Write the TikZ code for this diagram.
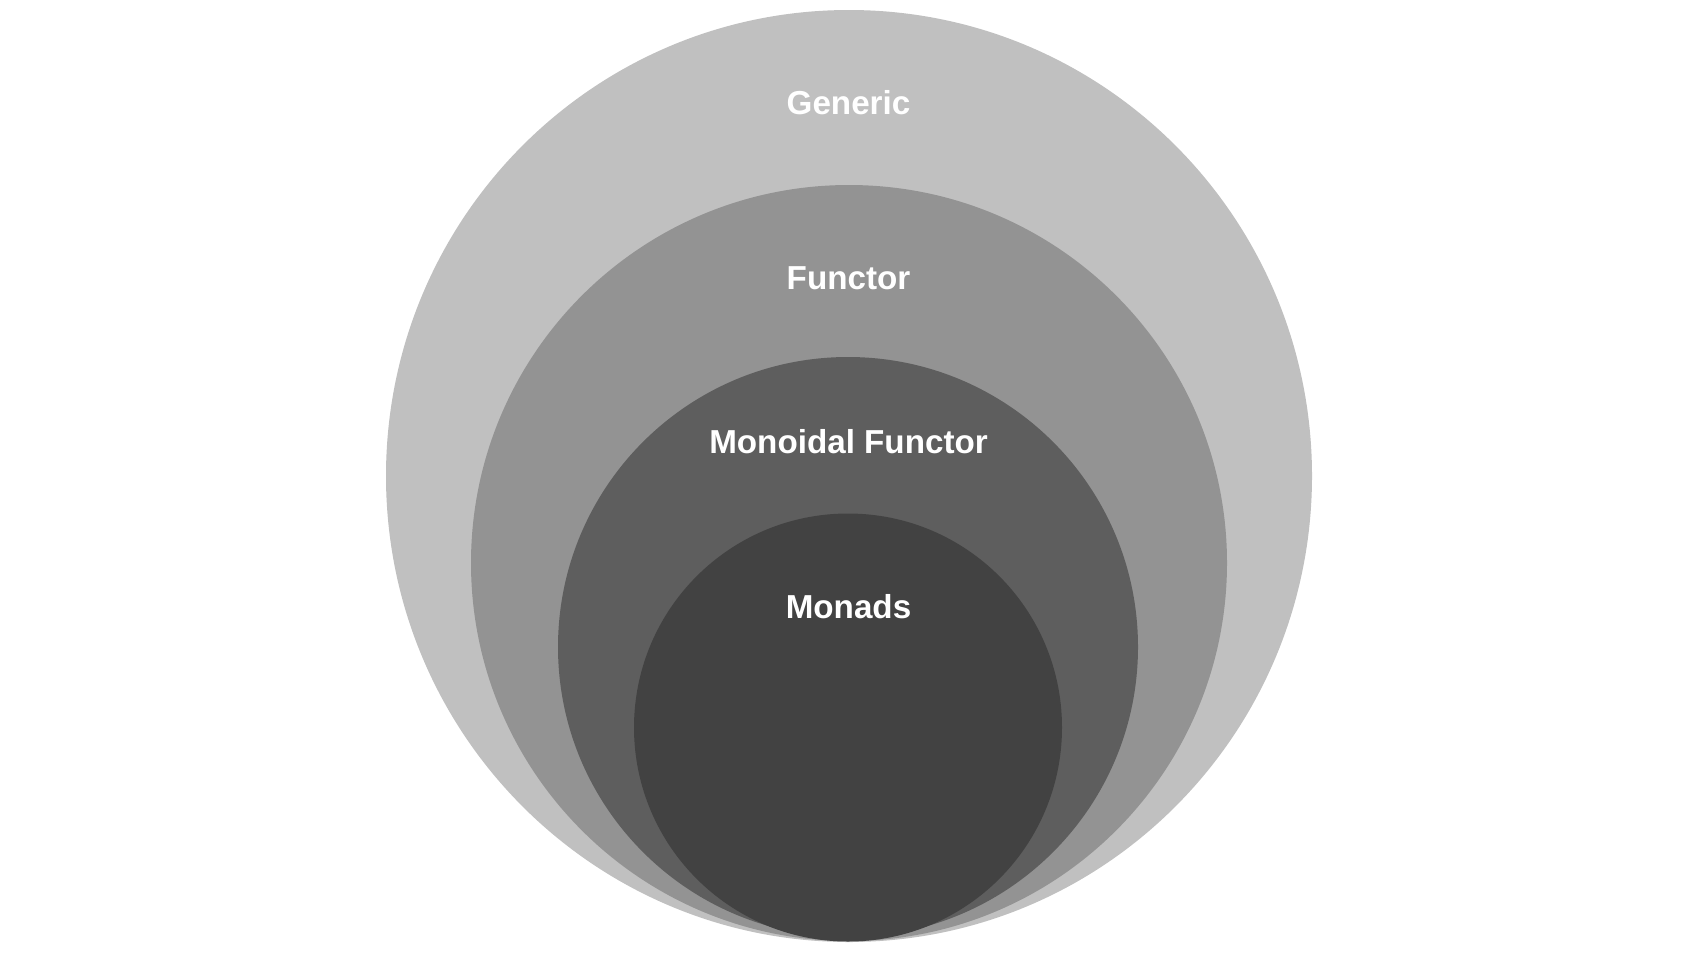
\documentclass[tikz,border=0pt]{standalone}
\usepackage{fontspec}
\setmainfont{Liberation Sans}
\definecolor{cGeneric}{RGB}{192,192,192}
\definecolor{cFunctor}{RGB}{147,147,147}
\definecolor{cMonoidal}{RGB}{94,94,94}
\definecolor{cMonads}{RGB}{66,66,66}
\begin{document}
\begin{tikzpicture}[x=1pt,y=-1pt,
  setlabel/.style={text=white,font=\fontsize{33.2}{36}\selectfont\bfseries,anchor=base,inner sep=0pt}]
\useasboundingbox (0,0) rectangle (1699,954);
\fill[white] (0,0) rectangle (1699,954);
\fill[cGeneric] (849,476) ellipse [x radius=463, y radius=466];
\fill[cFunctor] (849,563) circle [radius=378];
\fill[cMonoidal] (848,647) circle [radius=290];
\fill[cMonads] (848,727.5) circle [radius=214];
\node[setlabel] (generic) at (848.5,114.5) {Generic};
\node[setlabel] (functor) at (848.5,289) {Functor};
\node[setlabel] (monoidal) at (848.5,453.7) {Monoidal Functor};
\node[setlabel] (monads) at (848.5,618.4) {Monads};
\end{tikzpicture}
\end{document}
